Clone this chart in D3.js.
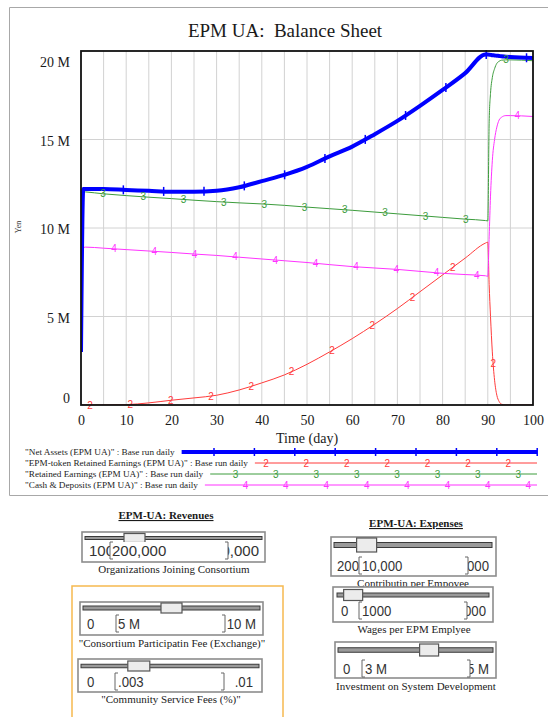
<!DOCTYPE html>
<html><head><meta charset="utf-8">
<script src="https://cdn.jsdelivr.net/npm/d3@7"></script>
<style>
html,body{margin:0;padding:0;background:#fff;}
svg{display:block;}
text{white-space:pre;}
</style></head><body>
<svg id="c" width="548" height="717"></svg>
<script>
// ---------- data (values in millions of Yen) ----------
const days = [0, 0.5, 1, 5, 10, 15, 20, 25, 30, 35, 40, 45, 50, 55, 60, 65, 70, 75, 80, 85, 89.5, 90, 90.3, 90.6, 91, 91.5, 92, 92.5, 93, 94, 95, 100];
const netAssets = [3.0, 12.2, 12.2, 12.2, 12.15, 12.1, 12.05, 12.05, 12.1, 12.3, 12.65, 13.0, 13.45, 14.05, 14.6, 15.3, 16.05, 16.9, 17.8, 18.75, 19.8, 19.8, 19.79, 19.78, 19.76, 19.75, 19.73, 19.72, 19.7, 19.68, 19.66, 19.6];
const tokenEarnings = [0, 0, 0, 0, 0.02, 0.12, 0.27, 0.4, 0.55, 0.85, 1.25, 1.7, 2.3, 3.0, 3.75, 4.57, 5.45, 6.4, 7.35, 8.3, 9.15, 9.2, 6.8, 5.0, 3.0, 1.4, 0.55, 0.2, 0.05, 0, 0, 0];
const retainedEarnings = [null, 12.05, 12.04, 11.93, 11.83, 11.74, 11.66, 11.57, 11.49, 11.42, 11.36, 11.28, 11.18, 11.09, 11.0, 10.9, 10.8, 10.7, 10.6, 10.5, 10.42, 10.4, 16.0, 17.6, 18.5, 19.0, 19.3, 19.42, 19.48, 19.5, 19.5, 19.45];
const cashDeposits = [5.5, 8.9, 8.92, 8.86, 8.78, 8.7, 8.62, 8.53, 8.45, 8.35, 8.25, 8.15, 8.05, 7.93, 7.82, 7.74, 7.66, 7.55, 7.44, 7.37, 7.3, 7.27, 9.5, 11.8, 13.8, 15.0, 15.7, 16.1, 16.25, 16.35, 16.35, 16.3];

const seriesLabels = ['"Net Assets (EPM UA)" : Base run daily', '"EPM-token Retained Earnings (EPM UA)" : Base run daily', '"Retained Earnings (EPM UA)" : Base run daily', '"Cash & Deposits (EPM UA)" : Base run daily'];
const seriesMarks = ['|', '2', '3', '4'];
const xTicks = [0, 10, 20, 30, 40, 50, 60, 70, 80, 90, 100];
const yTicks = [0, 5, 10, 15, 20];

const sliderCaptions = ["Organizations Joining Consortium", "\"Consortium Participatin Fee (Exchange)\"", "\"Community Service Fees (%)\"", "Contributin per Empovee", "Wages per EPM Emplyee", "Investment on System Development"];
const sliderMin = [100000, 0, 0, 200, 0, 0];
const sliderMax = [500000, 10e6, 0.01, 60000, 20000, 5e6];
const sliderValue = [200000, 5e6, 0.003, 10000, 1000, 3e6];
const sliderMinLabel = ["100,000", "0", "0", "200", "0", "0"];
const sliderMaxLabel = ["500,000", "10 M", ".01", "60,000", "20000", "5 M"];
const sliderValueLabel = ["200,000", "5 M", ".003", "10,000", "1000", "3 M"];

// ---------- drawing ----------
const svg = d3.select('#c');
const serif = '"Liberation Serif","Times New Roman",serif';
const sans = '"Liberation Sans",Arial,sans-serif';

// outer frame
svg.append('path').attr('d', 'M548,7.5 H9.5 V495.5 H548').attr('fill', 'none').attr('stroke', '#a8a8a8').attr('stroke-width', 1);

const L = 81, R = 533, T = 51, B = 405;
const x = d3.scaleLinear().domain([0, 100]).range([L, R]);
const y = d3.scaleLinear().domain([0, 20]).range([B, T]);

// title
svg.append('text').attr('x', 285).attr('y', 37).attr('text-anchor', 'middle')
  .attr('font-family', serif).attr('font-size', 19).attr('fill', '#1a1a1a').text('EPM UA:  Balance Sheet');

// grid
const g = svg.append('g');
g.selectAll('line.vg').data(d3.range(5, 100, 5)).join('line')
  .attr('x1', d => x(d)).attr('x2', d => x(d)).attr('y1', T).attr('y2', B)
  .attr('stroke', '#d2d2d2').attr('stroke-width', 1);
g.selectAll('line.hg').data([5, 10, 15]).join('line')
  .attr('x1', L).attr('x2', R).attr('y1', d => y(d)).attr('y2', d => y(d))
  .attr('stroke', '#d2d2d2').attr('stroke-width', 1);

// axes
const yAxis = svg.append('g').attr('transform', `translate(${L},0)`)
  .call(d3.axisLeft(y).tickValues(yTicks).tickSize(0).tickPadding(11).tickFormat(d => d === 0 ? '0' : d + ' M'));
yAxis.select('.domain').remove();
yAxis.selectAll('text').attr('font-family', serif).attr('font-size', 14).attr('fill', '#1a1a1a')
  .attr('dy', d => d === 20 ? '1.1em' : (d === 0 ? '-0.2em' : '0.4em'));

const xAxis = svg.append('g').attr('transform', `translate(0,${B})`)
  .call(d3.axisBottom(x).tickValues(xTicks).tickSize(0).tickPadding(10.5));
xAxis.select('.domain').remove();
xAxis.selectAll('text').attr('font-family', serif).attr('font-size', 14).attr('fill', '#1a1a1a');

svg.append('text').attr('x', (L + R) / 2).attr('y', 443).attr('text-anchor', 'middle')
  .attr('font-family', serif).attr('font-size', 14).attr('fill', '#1a1a1a').text('Time (day)');
svg.append('text').attr('transform', 'translate(21,227) rotate(-90)').attr('text-anchor', 'middle')
  .attr('font-family', serif).attr('font-size', 8).attr('fill', '#333').text('Yen');

// series
const series = [
  { vals: netAssets, color: '#0000ff', w: 4, start: 0.45 },
  { vals: tokenEarnings, color: '#ff3b3b', w: 1, start: 2.0 },
  { vals: retainedEarnings, color: '#3c9c3c', w: 1, start: 4.85 },
  { vals: cashDeposits, color: '#ff33ff', w: 1, start: 7.3 }
];
const markStep = 8.92;

svg.append('clipPath').attr('id', 'clip').append('rect').attr('x', L).attr('y', T - 3).attr('width', R - L).attr('height', B - T + 3);
const lineGen = d3.line().defined(d => d[1] !== null).x(d => x(d[0])).y(d => y(d[1])).curve(d3.curveMonotoneX);
const plot = svg.append('g').attr('clip-path', 'url(#clip)');
const drawOrder = [1, 2, 3, 0];

function interp(vals, t) {
  for (let i = 0; i < days.length - 1; i++) {
    if (t >= days[i] && t <= days[i + 1]) {
      const a = vals[i], b = vals[i + 1];
      if (a === null || b === null) return null;
      return a + (b - a) * (t - days[i]) / (days[i + 1] - days[i]);
    }
  }
  return null;
}

drawOrder.forEach(si => {
  const s = series[si];
  const pts = days.map((d, i) => [d, s.vals[i]]);
  plot.append('path').datum(pts).attr('d', lineGen).attr('fill', 'none')
    .attr('stroke', s.color).attr('stroke-width', s.w).attr('stroke-linejoin', 'round');
});

// markers
const mg = svg.append('g');
drawOrder.forEach(si => {
  const s = series[si];
  const ts = [];
  for (let t = s.start; t <= 100; t += markStep) ts.push(t);
  ts.forEach(t => {
    const v = interp(s.vals, t);
    if (v === null) return;
    const px = x(t), py = y(v);
    if (si === 0) {
      mg.append('line').attr('x1', px).attr('x2', px).attr('y1', py - 4.5).attr('y2', py + 4.5)
        .attr('stroke', s.color).attr('stroke-width', 1.5);
    } else {
      mg.append('text').attr('x', px).attr('y', py).attr('dy', '0.36em').attr('text-anchor', 'middle')
        .attr('font-family', sans).attr('font-size', 10).attr('fill', s.color).text(seriesMarks[si]);
    }
  });
});

// plot border
svg.append('rect').attr('x', L).attr('y', T).attr('width', R - L).attr('height', B - T)
  .attr('fill', 'none').attr('stroke', '#111').attr('stroke-width', 1.8);

// legend
const legY = [452, 463, 474, 485];
const legFirst = [214, 266, 235.5, 245.5];
const legEnd = 537, legStep = 40.4;
seriesLabels.forEach((lab, i) => {
  const t = svg.append('text').attr('x', 25).attr('y', legY[i] + 3).attr('font-family', serif)
    .attr('font-size', 9.2).attr('fill', '#222').text(lab);
  const len = t.node().getComputedTextLength();
  const s = series[i];
  svg.append('line').attr('x1', 25 + len + 7).attr('x2', legEnd).attr('y1', legY[i]).attr('y2', legY[i])
    .attr('stroke', s.color).attr('stroke-width', i === 0 ? 4 : 1);
  for (let px = legFirst[i]; px <= legEnd + 1; px += legStep) {
    if (i === 0) {
      svg.append('line').attr('x1', px).attr('x2', px).attr('y1', legY[i] - 4).attr('y2', legY[i] + 4)
        .attr('stroke', s.color).attr('stroke-width', 1.5);
    } else {
      svg.append('text').attr('x', px).attr('y', legY[i]).attr('dy', '0.36em').attr('text-anchor', 'middle')
        .attr('font-family', sans).attr('font-size', 10).attr('fill', s.color).text(seriesMarks[i]);
    }
  }
});

// ---------- sliders ----------
function heading(txt, cx, cy) {
  svg.append('text').attr('x', cx).attr('y', cy + 4).attr('text-anchor', 'middle').attr('font-family', serif)
    .attr('font-size', 11).attr('font-weight', 'bold').attr('text-decoration', 'underline').attr('fill', '#1a1a1a').text(txt);
}
heading('EPM-UA: Revenues', 166, 515);
heading('EPM-UA: Expenses', 416, 523);

svg.append('rect').attr('x', 72).attr('y', 586).attr('width', 211).attr('height', 160)
  .attr('fill', 'none').attr('stroke', '#f6b94f').attr('stroke-width', 1.5);

const sliderLayout = [
  { bx: 82, by: 532, bw: 183, bh: 30, tx0: 85, tx1: 262, ty: 538, th: 3, tw: 21, thh: 9, fl: 110, fr: 228, ny: 551, minX: 89, maxX: 259, valX: 112, cx: 174, cy: 569, sc: 1.0 },
  { bx: 80, by: 602, bw: 183, bh: 33, tx0: 83, tx1: 260, ty: 608, th: 4, tw: 21, thh: 10, fl: 116, fr: 225, ny: 624, minX: 87, maxX: 256, valX: 118, cx: 172, cy: 643, sc: 0.88 },
  { bx: 78, by: 659, bw: 184, bh: 33, tx0: 81, tx1: 259, ty: 666, th: 3.5, tw: 22, thh: 10, fl: 115, fr: 224, ny: 682, minX: 87, maxX: 253, valX: 118, cx: 171, cy: 699, sc: 0.88 },
  { bx: 331, by: 537, bw: 165, bh: 39, tx0: 334, tx1: 492, ty: 545, th: 5, tw: 20, thh: 14, fl: 359, fr: 468, ny: 566, minX: 337, maxX: 489, valX: 362, cx: 413, cy: 583, sc: 0.88 },
  { bx: 333, by: 587, bw: 160, bh: 35, tx0: 337, tx1: 489, ty: 595, th: 4, tw: 19, thh: 11, fl: 359, fr: 467, ny: 611, minX: 341, maxX: 486, valX: 362, cx: 414, cy: 629, sc: 0.88 },
  { bx: 335, by: 642, bw: 161, bh: 36, tx0: 338, tx1: 493, ty: 650, th: 4.5, tw: 19, thh: 12, fl: 362, fr: 470, ny: 669, minX: 343, maxX: 489, valX: 365, cx: 416, cy: 686, sc: 0.88 }
];

function numText(gp, str, xx, yy, anchor, sc) {
  const t = gp.append('text').attr('x', xx).attr('y', yy + 5).attr('font-family', sans).attr('font-size', 15)
    .attr('fill', '#333').attr('text-anchor', anchor).text(str);
  if (sc !== 1) {
    const w = t.node().getComputedTextLength();
    t.attr('textLength', w * sc).attr('lengthAdjust', 'spacingAndGlyphs');
  }
  return t;
}

sliderLayout.forEach((l, i) => {
  const gp = svg.append('g');
  gp.append('rect').attr('x', l.bx).attr('y', l.by).attr('width', l.bw).attr('height', l.bh)
    .attr('fill', '#fff').attr('stroke', '#8c8c8c').attr('stroke-width', 1.6);
  gp.append('rect').attr('x', l.tx0).attr('y', l.ty - l.th / 2).attr('width', l.tx1 - l.tx0).attr('height', l.th)
    .attr('fill', '#9a9a9a').attr('stroke', '#3a3a3a').attr('stroke-width', 1);
  const sx = d3.scaleLinear().domain([sliderMin[i], sliderMax[i]]).range([l.tx0 + l.tw / 2, l.tx1 - l.tw / 2]);
  const cxp = sx(sliderValue[i]);
  gp.append('rect').attr('x', cxp - l.tw / 2).attr('y', l.ty - l.thh / 2).attr('width', l.tw).attr('height', l.thh)
    .attr('fill', '#ececec').attr('stroke', '#555').attr('stroke-width', 1.2);
  // min label only visible up to the value field
  const cid = 'mclip' + i;
  gp.append('clipPath').attr('id', cid).append('rect').attr('x', l.bx).attr('y', l.ny - 12).attr('width', l.fl - l.bx).attr('height', 24);
  numText(gp.append('g').attr('clip-path', `url(#${cid})`), sliderMinLabel[i], l.minX, l.ny, 'start', l.sc);
  numText(gp, sliderMaxLabel[i], l.maxX, l.ny, 'end', l.sc);
  gp.append('rect').attr('x', l.fl).attr('y', l.ny - 9).attr('width', l.fr - l.fl).attr('height', 17).attr('fill', '#fff');
  gp.append('path').attr('d', `M${l.fl + 3},${l.ny - 9} H${l.fl} V${l.ny + 8} H${l.fl + 3} M${l.fr - 3},${l.ny - 9} H${l.fr} V${l.ny + 8} H${l.fr - 3}`)
    .attr('fill', 'none').attr('stroke', '#666').attr('stroke-width', 1);
  numText(gp, sliderValueLabel[i], l.valX, l.ny, 'start', l.sc);
  gp.append('text').attr('x', l.cx).attr('y', l.cy + 4).attr('text-anchor', 'middle').attr('font-family', serif)
    .attr('font-size', 11).attr('fill', '#222').text(sliderCaptions[i]);
});
</script>
</body></html>
